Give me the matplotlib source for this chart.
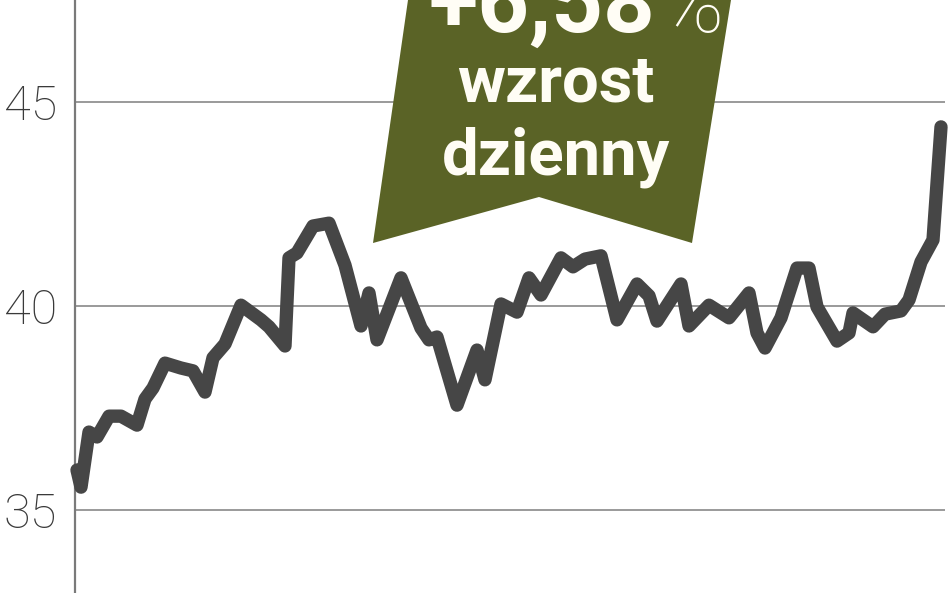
import matplotlib
matplotlib.use("Agg")
import matplotlib.pyplot as plt
from matplotlib.patches import Polygon

# dzienne notowania (dzien sesji, kurs)
days = [0, 1, 3, 5, 8, 11, 15, 17, 19, 22, 26, 29, 32, 34, 37, 41, 46, 48, 52, 53,
        55, 59, 63, 67, 71, 73, 75, 81, 86, 88, 90, 95, 100, 102, 106, 110, 113, 116,
        121, 124, 127, 131, 135, 140, 143, 145, 151, 153, 158, 163, 168, 170, 172, 176,
        180, 183, 185, 190, 193, 194, 199, 202, 206, 208, 211, 214, 216]
prices = [35.98, 35.56, 36.91, 36.79, 37.30, 37.30, 37.08, 37.72, 37.99, 38.60, 38.48,
          38.41, 37.89, 38.73, 39.07, 40.02, 39.66, 39.49, 39.02, 41.18, 41.30, 41.96,
          42.03, 41.00, 39.51, 40.32, 39.17, 40.69, 39.46, 39.17, 39.24, 37.57, 38.92,
          38.19, 40.05, 39.85, 40.69, 40.27, 41.18, 40.96, 41.15, 41.23, 39.66, 40.54,
          40.25, 39.63, 40.54, 39.51, 40.02, 39.71, 40.32, 39.34, 38.97, 39.71, 40.93,
          40.93, 39.98, 39.14, 39.34, 39.83, 39.49, 39.80, 39.88, 40.15, 41.08, 41.62,
          44.39]
yticks = [35, 40, 45]
ytick_labels = ["35", "40", "45"]
badge_top = "+6,58"

W, H = 948, 593
fig = plt.figure(figsize=(W / 100, H / 100), dpi=100)
fig.patch.set_facecolor("white")
ax = fig.add_axes([75 / W, 0, (945 - 75) / W, 1])
ax.set_facecolor("white")

ax.plot(days, prices, color="#464646", lw=9.6, solid_joinstyle="round",
        solid_capstyle="round", zorder=3, clip_on=False)

ax.set_xlim(-0.5, 217)
ax.set_ylim(45 - 491 / 40.8, 45 + 102 / 40.8)
ax.set_yticks(yticks)
ax.set_yticklabels(ytick_labels, fontfamily="Roboto", fontweight="light",
                   fontsize=35, color="#3a3a3a")
ax.tick_params(axis="y", length=0, pad=13)
ax.set_xticks([])
ax.grid(axis="y", color="#9a9a9a", lw=1.4)
ax.set_axisbelow(True)
for s in ["top", "right", "bottom"]:
    ax.spines[s].set_visible(False)
ax.spines["left"].set_color("#7a7a7a")
ax.spines["left"].set_linewidth(1.6)

# zielona etykieta
pts = [(408, 0), (731, 0), (692, 243), (539, 197), (373, 243)]
badge = Polygon([(x / W, 1 - y / H) for x, y in pts], closed=True,
                transform=fig.transFigure, facecolor="#5a6326", edgecolor="none", zorder=2)
fig.add_artist(badge)

fig.text(655 / W, 1 - 32 / H, badge_top, ha="right", va="baseline", color="#fffdf5",
         fontfamily="Roboto", fontweight="bold", fontsize=65, zorder=4)
fig.text(659 / W, 1 - 32 / H, "%", ha="left", va="baseline", color="#fffdf5",
         fontfamily="Roboto", fontweight="light", fontsize=62, zorder=4)
fig.text(556 / W, 1 - 102 / H, "wzrost", ha="center", va="baseline", color="#fffdf5",
         fontfamily="Roboto", fontweight="bold", fontsize=47, zorder=4)
fig.text(556 / W, 1 - 175 / H, "dzienny", ha="center", va="baseline", color="#fffdf5",
         fontfamily="Roboto", fontweight="bold", fontsize=47, zorder=4)

fig.savefig("out.png", dpi=100, facecolor="white")
